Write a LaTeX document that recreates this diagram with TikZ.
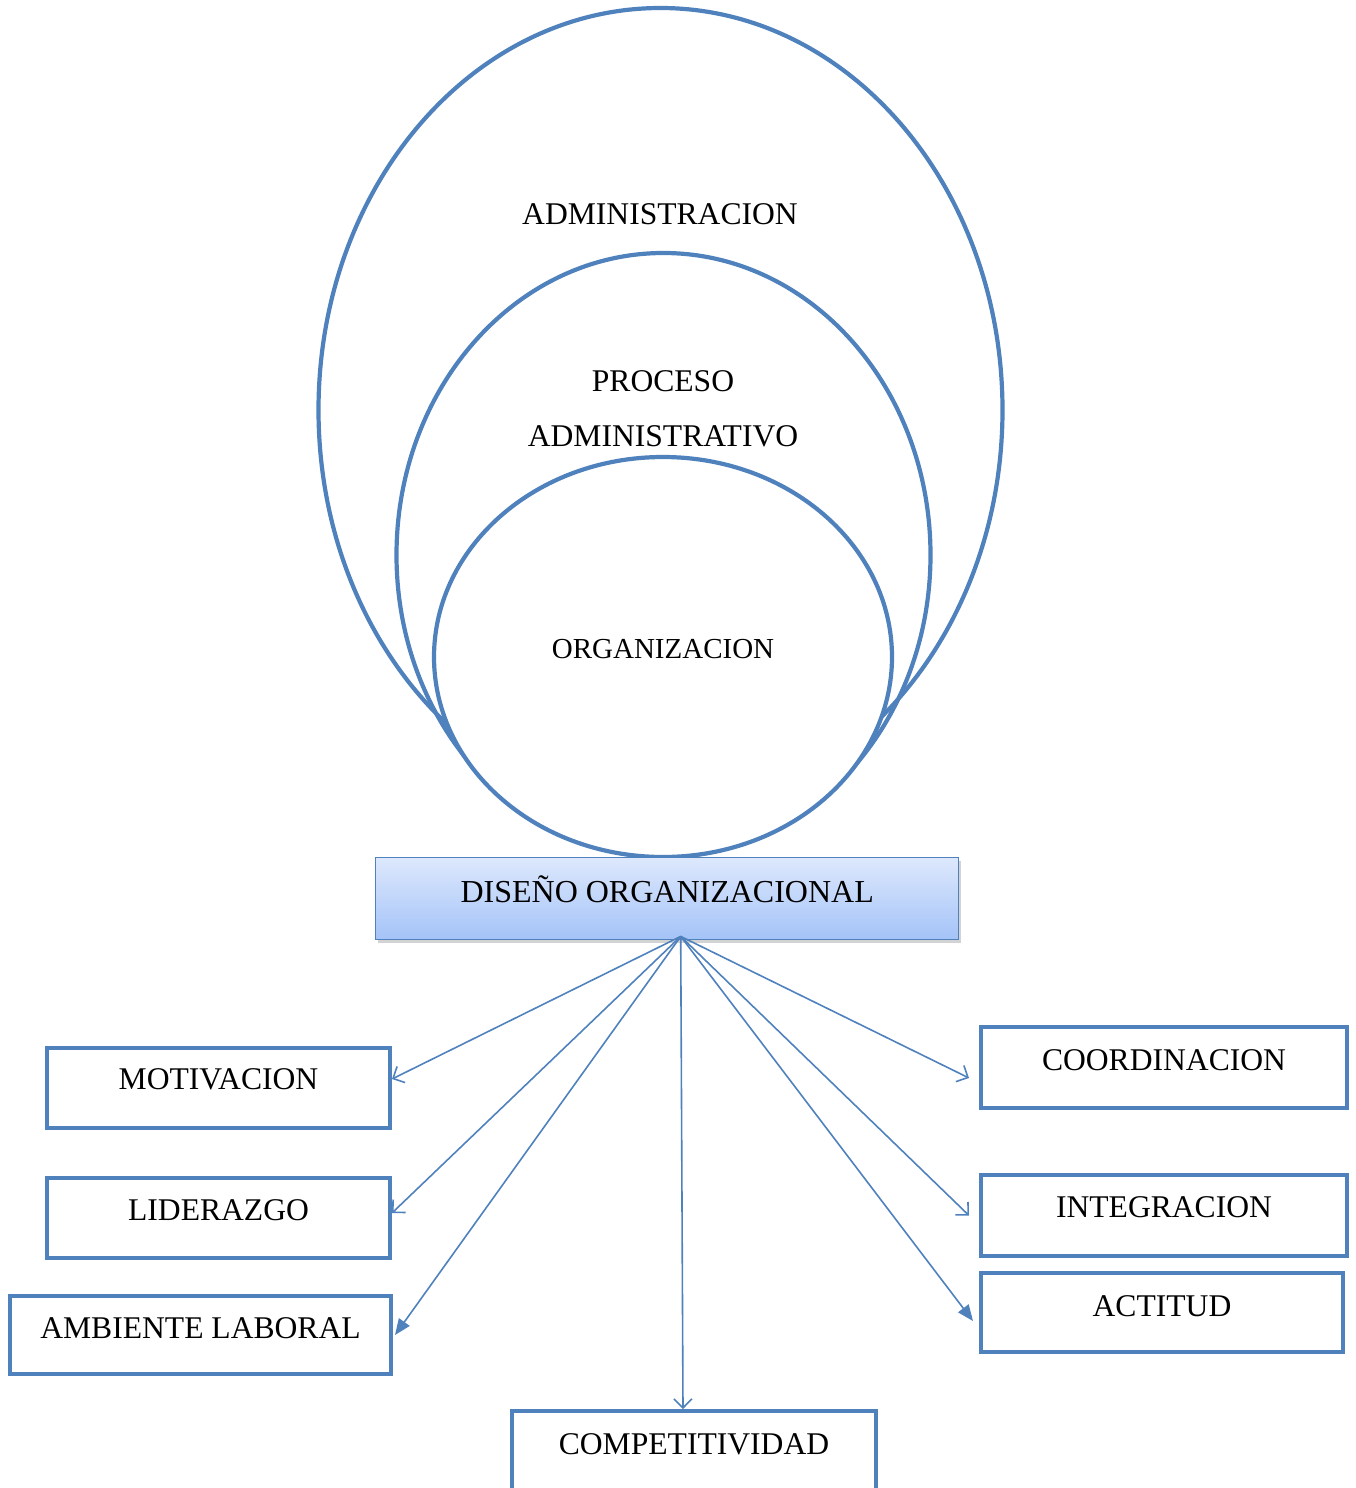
\documentclass[tikz,border=0pt]{standalone}
\usepackage{fontspec}
\setmainfont{Liberation Serif}
\usetikzlibrary{arrows.meta,shadows}
\definecolor{azul}{HTML}{4F81BD}
\definecolor{claro}{HTML}{DDE8FC}
\definecolor{medio}{HTML}{A4C3F8}
\tikzset{
  caja/.style={draw=azul, line width=2pt, inner sep=0pt, anchor=north west,
    text height=21pt, font=\fontsize{15.8}{19}\selectfont},
  texto/.style={font=\fontsize{15.8}{19}\selectfont, inner sep=0pt},
  flecha/.style={draw=azul, line width=0.8pt, -{Straight Barb[length=4.5pt,width=9pt,line width=0.8pt]}},
  flechallena/.style={draw=azul, line width=0.8pt, -{Triangle[length=8pt,width=6.5pt]}}
}
\begin{document}
\begin{tikzpicture}[x=0.5pt,y=-0.5pt]
  \useasboundingbox (0,0) rectangle (1355,1488);
  \clip (0,0) rectangle (1355,1488);
  % elipses
  \begin{scope}[draw=azul, line width=2.1pt]
  \draw (660.5,410) ellipse (342 and 402);
  \draw (663.5,555) ellipse (267 and 302);
  \draw[fill=white] (663,657) ellipse (229 and 200);
  \end{scope}
  \node[texto] (adm) at (660,214) {ADMINISTRACION};
  \node[texto] (pro) at (663,381) {PROCESO};
  \node[texto] (proadm) at (663,436) {ADMINISTRATIVO};
  \node[texto, font=\fontsize{14.5}{17}\selectfont] (org) at (663,649) {ORGANIZACION};
  % diseno
  \node[caja, draw=azul, line width=0.7pt, top color=claro, bottom color=medio,
    drop shadow={opacity=0.35, shadow xshift=1pt, shadow yshift=-1.5pt},
    minimum width=291.5pt, minimum height=41pt, text height=22.25pt, text depth=18.75pt,
    font=\fontsize{16}{19}\selectfont]
    (dis) at (375,857) {DISEÑO ORGANIZACIONAL};
  \coordinate (hub) at ([xshift=6.75pt,yshift=2pt]dis.south);
  % cajas
  \node[caja, minimum width=171.5pt, minimum height=40pt, text height=20.75pt, text depth=19.25pt]
    (mot) at (45,1046) {MOTIVACION};
  \node[caja, minimum width=171.5pt, minimum height=40pt, text depth=19pt]
    (lid) at (45,1176) {LIDERAZGO};
  \node[caja, minimum width=190.5pt, minimum height=39pt, text height=21.25pt, text depth=17.75pt]
    (amb) at (8,1294) {AMBIENTE LABORAL};
  \node[caja, minimum width=183pt, minimum height=40.5pt, text height=21.75pt, text depth=18.75pt]
    (coo) at (979,1025) {COORDINACION};
  \node[caja, minimum width=183pt, minimum height=40.5pt, text height=21.25pt, text depth=19.25pt]
    (int) at (979,1173) {INTEGRACION};
  \node[caja, minimum width=181pt, minimum height=39.5pt, text height=21.75pt, text depth=17.75pt]
    (act) at (979,1271) {ACTITUD};
  \node[caja, minimum width=182pt, minimum height=60pt, text height=21.75pt, text depth=38.25pt]
    (com) at (510,1409) {COMPETITIVIDAD};
  % flechas
  \draw[flecha] (hub) -- ([yshift=4.5pt]mot.east);
  \draw[flecha] (hub) -- ([yshift=2.5pt]lid.east);
  \draw[flechallena] (hub) -- ([xshift=1pt]amb.east);
  \draw[flecha] (hub) -- ([xshift=-5pt,yshift=-5.25pt]coo.west);
  \draw[flecha] (hub) -- ([xshift=-5pt]int.west);
  \draw[flechallena] (hub) -- ([xshift=-3pt,yshift=-4.25pt]act.west);
  \draw[flecha] (hub) -- ([xshift=-5.5pt]com.north);
\end{tikzpicture}
\end{document}
